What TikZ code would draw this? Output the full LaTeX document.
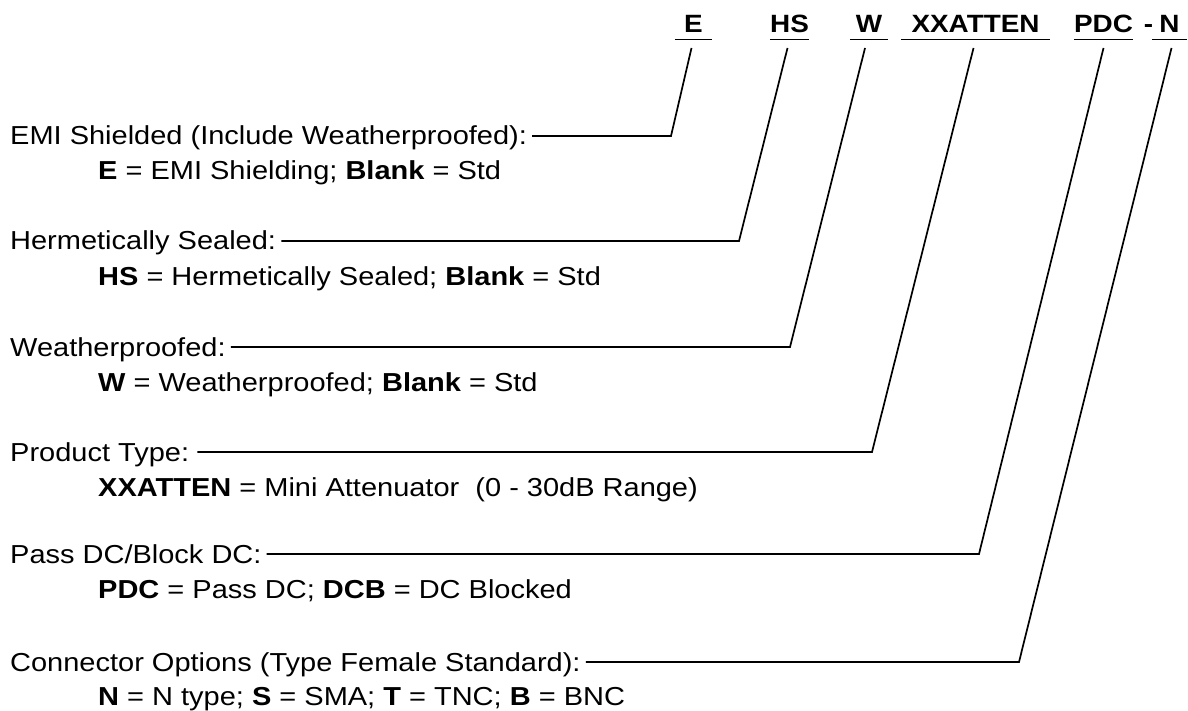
\documentclass[tikz,border=0pt]{standalone}
\usepackage{fontspec}
\setmainfont{Liberation Sans}[FakeStretch=1.115]
\begin{document}
\begin{tikzpicture}[x=1pt,y=-1pt,
  txt/.style={font=\fontsize{26pt}{30pt}\selectfont, inner sep=0pt},
  lab/.style={txt, anchor=base west, inner xsep=5pt},
  hdr/.style={txt, font=\fontsize{25pt}{30pt}\selectfont\bfseries, anchor=base},
  wire/.style={line width=1.7pt, line join=miter},
  uline/.style={line width=1.8pt}]
\useasboundingbox (0,0) rectangle (1188,711);
% header codes
\node[hdr, minimum width=37pt] (hE) at (693.5,33) {E};
\node[hdr, minimum width=37pt] (hHS) at (789.5,33) {HS};
\node[hdr, minimum width=38pt] (hW) at (869,33) {W};
\node[hdr, minimum width=149pt] (hX) at (975.5,33) {XXATTEN};
\node[hdr, minimum width=57pt] (hP) at (1103.5,33) {PDC};
\node[hdr] (hD) at (1148.5,33) {-};
\node[hdr, minimum width=35pt] (hN) at (1169.5,33) {N};
\foreach \n in {hE,hHS,hW,hX,hP,hN}
  \draw[uline] ([yshift=-6.5pt]\n.base west) -- ([yshift=-6.5pt]\n.base east);
% labels
\node[lab] (lE) at (5,145) {EMI Shielded (Include Weatherproofed):};
\node[lab, inner xsep=0pt] (dE) at (98,180) {\textbf{E} = EMI Shielding; \textbf{Blank} = Std};
\node[lab] (lHS) at (5,250) {Hermetically Sealed:};
\node[lab, inner xsep=0pt] (dHS) at (98,285) {\textbf{HS} = Hermetically Sealed; \textbf{Blank} = Std};
\node[lab] (lW) at (5,356) {Weatherproofed:};
\node[lab, inner xsep=0pt] (dW) at (98,391) {\textbf{W} = Weatherproofed; \textbf{Blank} = Std};
\node[lab, inner xsep=8pt] (lX) at (2,461) {Product Type:};
\node[lab, inner xsep=0pt] (dX) at (98,496) {\textbf{XXATTEN} = Mini Attenuator~~(0 - 30dB Range)};
\node[lab] (lP) at (5,563) {Pass DC/Block DC:};
\node[lab, inner xsep=0pt] (dP) at (98,598) {\textbf{PDC} = Pass DC; \textbf{DCB} = DC Blocked};
\node[lab] (lN) at (5,671) {Connector Options (Type Female Standard):};
\node[lab, inner xsep=0pt] (dN) at (98,705) {\textbf{N} = N type; \textbf{S} = SMA; \textbf{T} = TNC; \textbf{B} = BNC};
% corners
\coordinate (cE) at (671,136);
\coordinate (cHS) at (739,241);
\coordinate (cW) at (790,347);
\coordinate (cX) at (872,452);
\coordinate (cP) at (979,554);
\coordinate (cN) at (1019,662);
% connectors
\draw[wire] ([xshift=-2pt,yshift=-15pt]hE.base) -- (cE) -- (cE -| lE.east);
\draw[wire] ([xshift=-2pt,yshift=-15pt]hHS.base) -- (cHS) -- (cHS -| lHS.east);
\draw[wire] ([xshift=-4pt,yshift=-15pt]hW.base) -- (cW) -- (cW -| lW.east);
\draw[wire] ([xshift=-2pt,yshift=-15pt]hX.base) -- (cX) -- (cX -| lX.east);
\draw[wire] ([yshift=-15pt]hP.base) -- (cP) -- (cP -| lP.east);
\draw[wire] ([xshift=2pt,yshift=-15pt]hN.base) -- (cN) -- (cN -| lN.east);
\end{tikzpicture}
\end{document}
